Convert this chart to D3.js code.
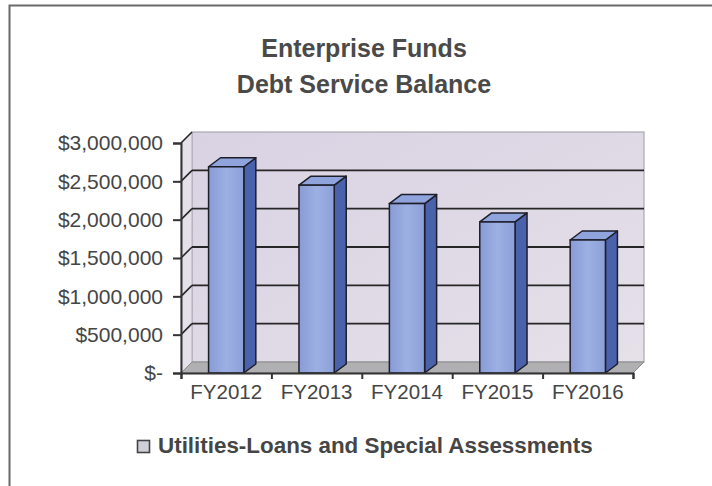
<!DOCTYPE html>
<html>
<head>
<meta charset="utf-8">
<script src="https://cdn.jsdelivr.net/npm/d3@7"></script>
<style>
  body { margin: 0; background: #fff; }
  svg { display: block; font-family: "Liberation Sans", Arial, sans-serif; }
</style>
</head>
<body>
<svg id="chart" width="712" height="486"></svg>
<script>
// chart data
const titleLines = ["Enterprise Funds", "Debt Service Balance"];
const categories = ["FY2012", "FY2013", "FY2014", "FY2015", "FY2016"];
const balances = [2690000, 2450000, 2210000, 1970000, 1735000];
const yTicks = [0, 500000, 1000000, 1500000, 2000000, 2500000, 3000000];
const seriesName = "Utilities-Loans and Special Assessments";

const svg = d3.select("#chart");

// plot area (front plane) and 3d depth offsets
const plotL = 181, plotR = 633, plotB = 373, plotT = 143;
const wallDx = 11, wallDy = -11;
const barDx = 12, barDy = -9;

const x = d3.scaleBand().domain(categories).range([plotL, plotR]);
const y = d3.scaleLinear().domain([0, 3000000]).range([plotB, plotT]);
const fmt = d3.format(",");

// outer frame (only top and left edges show in the scan)
svg.append("path")
  .attr("d", "M9.5,486 L9.5,5.5 L712,5.5")
  .attr("fill", "none")
  .attr("stroke", "#6a6a6a")
  .attr("stroke-width", 2);

// title
svg.append("g").selectAll("text")
  .data(titleLines)
  .enter().append("text")
  .attr("x", 364)
  .attr("y", (d, i) => 57 + i * 36)
  .attr("text-anchor", "middle")
  .attr("font-size", 25)
  .attr("font-weight", "bold")
  .attr("fill", "#4a4a4a")
  .text((d) => d);

// gradients for the back wall and bar fronts
const defs = svg.append("defs");
const wallGrad = defs.append("linearGradient")
  .attr("id", "wall").attr("x1", 0).attr("y1", 0).attr("x2", 1).attr("y2", 1);
wallGrad.append("stop").attr("offset", "0%").attr("stop-color", "#d8d2e3");
wallGrad.append("stop").attr("offset", "100%").attr("stop-color", "#e6e0e9");

const frontGrad = defs.append("linearGradient")
  .attr("id", "front").attr("x1", 0).attr("y1", 0).attr("x2", 1).attr("y2", 0);
frontGrad.append("stop").attr("offset", "0%").attr("stop-color", "#889bd6");
frontGrad.append("stop").attr("offset", "50%").attr("stop-color", "#9cb0e3");
frontGrad.append("stop").attr("offset", "100%").attr("stop-color", "#8ca0d9");

// back wall
svg.append("rect")
  .attr("x", plotL + wallDx)
  .attr("y", plotT + wallDy)
  .attr("width", plotR - plotL)
  .attr("height", plotB - plotT)
  .attr("fill", "url(#wall)")
  .attr("stroke", "#a8a8b0")
  .attr("stroke-width", 1.2);

// left side wall
svg.append("path")
  .attr("d", `M${plotL},${plotB} L${plotL},${plotT} L${plotL + wallDx},${plotT + wallDy} L${plotL + wallDx},${plotB + wallDy} Z`)
  .attr("fill", "#e4e1ea")
  .attr("stroke", "#b0b0b8")
  .attr("stroke-width", 1);

// floor
svg.append("path")
  .attr("d", `M${plotL},${plotB} L${plotR},${plotB} L${plotR + wallDx},${plotB + wallDy} L${plotL + wallDx},${plotB + wallDy} Z`)
  .attr("fill", "#b0b0b2")
  .attr("stroke", "#8a8a8a")
  .attr("stroke-width", 1);

// gridlines on back wall and side wall
const grid = yTicks.filter((d) => d > 0 && d < 3000000);
svg.append("g").selectAll("line")
  .data(grid)
  .enter().append("line")
  .attr("x1", plotL + wallDx)
  .attr("x2", plotR + wallDx)
  .attr("y1", (d) => y(d) + wallDy)
  .attr("y2", (d) => y(d) + wallDy)
  .attr("stroke", "#262626")
  .attr("stroke-width", 1.8);

svg.append("g").selectAll("line")
  .data(yTicks.filter((d) => d > 0))
  .enter().append("line")
  .attr("x1", plotL)
  .attr("x2", plotL + wallDx)
  .attr("y1", (d) => y(d))
  .attr("y2", (d) => y(d) + wallDy)
  .attr("stroke", "#262626")
  .attr("stroke-width", 1.6);

// bars (side, top, front faces)
const barW = x.bandwidth() * 0.39;
const bars = svg.append("g").selectAll("g")
  .data(categories.map((c, i) => ({ cat: c, value: balances[i] })))
  .enter().append("g");

bars.append("path")
  .attr("d", (d) => {
    const x0 = x(d.cat) + (x.bandwidth() - barW) / 2, x1 = x0 + barW;
    return `M${x1},${plotB} L${x1},${y(d.value)} L${x1 + barDx},${y(d.value) + barDy} L${x1 + barDx},${plotB + barDy} Z`;
  })
  .attr("fill", "#4a61ab")
  .attr("stroke", "#1e1e2a")
  .attr("stroke-width", 1.5)
  .attr("stroke-linejoin", "round");

bars.append("path")
  .attr("d", (d) => {
    const x0 = x(d.cat) + (x.bandwidth() - barW) / 2, x1 = x0 + barW;
    const t = y(d.value);
    return `M${x0},${t} L${x0 + barDx},${t + barDy} L${x1 + barDx},${t + barDy} L${x1},${t} Z`;
  })
  .attr("fill", "#8fa3dc")
  .attr("stroke", "#1e1e2a")
  .attr("stroke-width", 1.5)
  .attr("stroke-linejoin", "round");

bars.append("rect")
  .attr("x", (d) => x(d.cat) + (x.bandwidth() - barW) / 2)
  .attr("y", (d) => y(d.value))
  .attr("width", barW)
  .attr("height", (d) => plotB - y(d.value))
  .attr("fill", "url(#front)")
  .attr("stroke", "#1e1e2a")
  .attr("stroke-width", 1.5);

// y axis
const yAxis = svg.append("g")
  .attr("transform", `translate(${plotL},0)`)
  .call(d3.axisLeft(y)
    .tickValues(yTicks)
    .tickSize(8)
    .tickPadding(10)
    .tickFormat((d) => (d === 0 ? "$-" : "$" + fmt(d))));
yAxis.select(".domain").attr("stroke", "#333").attr("stroke-width", 2);
yAxis.selectAll(".tick line").attr("stroke", "#333").attr("stroke-width", 2);
yAxis.selectAll(".tick text")
  .attr("font-size", 21)
  .attr("font-family", "Liberation Sans, Arial, sans-serif")
  .attr("fill", "#454545");

// x axis: ticks at category boundaries, labels at centres
const xEdge = d3.scaleLinear().domain([0, categories.length]).range([plotL, plotR]);
const xTicks = svg.append("g")
  .attr("transform", `translate(0,${plotB})`)
  .call(d3.axisBottom(xEdge).ticks(categories.length).tickSize(6).tickFormat(""));
xTicks.select(".domain").attr("stroke", "#333").attr("stroke-width", 2);
xTicks.selectAll(".tick line").attr("stroke", "#333").attr("stroke-width", 2);

const xLabels = svg.append("g")
  .attr("transform", `translate(0,${plotB})`)
  .call(d3.axisBottom(x).tickSize(0).tickPadding(11));
xLabels.select(".domain").remove();
xLabels.selectAll(".tick text")
  .attr("font-size", 20.5)
  .attr("font-family", "Liberation Sans, Arial, sans-serif")
  .attr("fill", "#454545")
  .attr("dy", "0.71em");

// legend
const legend = svg.append("g").attr("transform", "translate(137,440)");
legend.append("rect")
  .attr("x", 0.5).attr("y", 0.5)
  .attr("width", 12).attr("height", 12)
  .attr("fill", "#cfcfda")
  .attr("stroke", "#444")
  .attr("stroke-width", 1.6);
legend.append("text")
  .attr("x", 21)
  .attr("y", 13)
  .attr("font-size", 22.4)
  .attr("font-weight", "bold")
  .attr("fill", "#454545")
  .text(seriesName);
</script>
</body>
</html>
